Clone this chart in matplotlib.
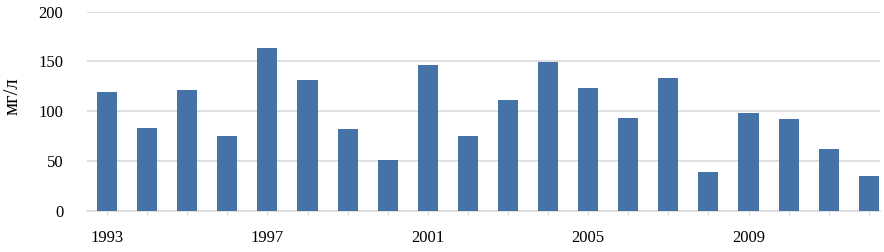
import matplotlib
matplotlib.use("Agg")
import matplotlib.pyplot as plt

years = list(range(1993, 2013))
values = [119.5, 83.5, 121, 75.5, 164, 131, 82, 50.5, 146, 75, 111, 149, 123.5,
          93.5, 133.5, 39, 98.5, 92, 62, 35]
label_years = [1993, 1997, 2001, 2005, 2009]
y_ticks = [0, 50, 100, 150, 200]

plt.rcParams['font.family'] = ['Liberation Serif', 'DejaVu Serif']

fig = plt.figure(figsize=(8.84, 2.52), dpi=100)
ax = fig.add_axes([87 / 884, 1 - 210.7 / 252, 793 / 884, 199 / 252])

x = list(range(len(years)))
ax.bar(x, values, width=0.5, color='#4572A7', zorder=3)

ax.set_ylim(0, 200)
ax.set_xlim(-0.5, 19.28)
ax.set_yticks(y_ticks)
ax.set_yticklabels([str(v) for v in y_ticks], fontsize=12)
ax.yaxis.grid(True, color='#d9d9d9', linewidth=1.2, zorder=0)
ax.tick_params(axis='y', length=0, pad=17)

ax.set_xticks(x)
ax.set_xticklabels([str(y) if y in label_years else '' for y in years], fontsize=12)
ax.tick_params(axis='x', length=3, color='#d9d9d9', pad=11)

for s in ['top', 'right', 'left']:
    ax.spines[s].set_visible(False)
ax.spines['bottom'].set_color('#d9d9d9')
ax.spines['bottom'].set_linewidth(1.2)

ax.set_ylabel('мг/л', fontsize=15, va='center')
ax.yaxis.set_label_coords(-0.093, 0.576)

fig.savefig('out.png', dpi=100)
